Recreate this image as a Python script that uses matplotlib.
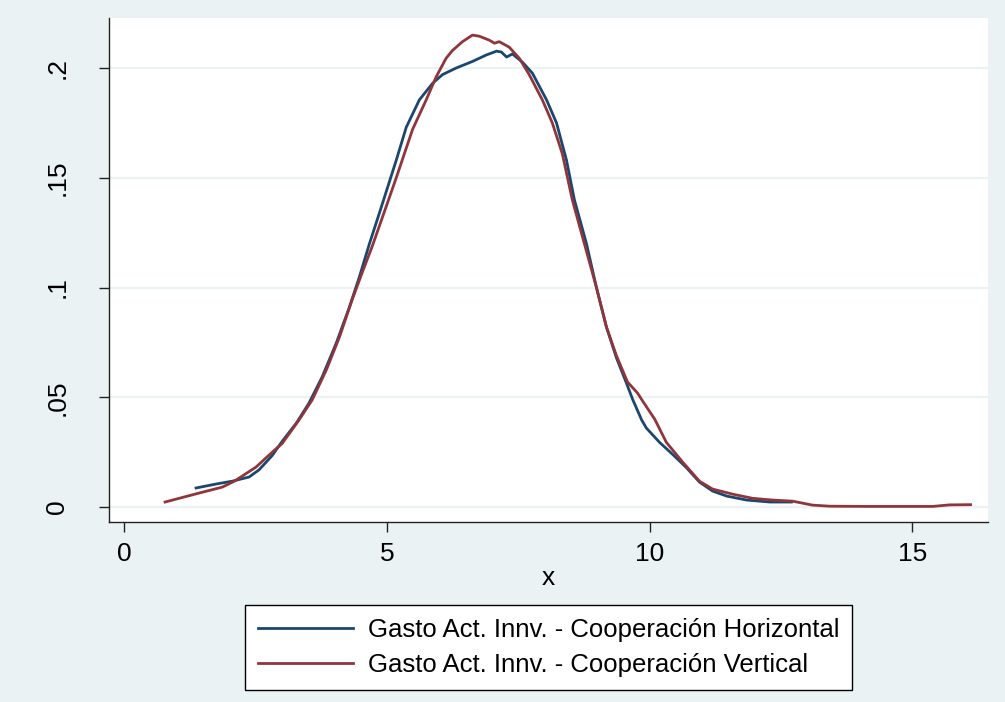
import matplotlib
matplotlib.use("Agg")
import matplotlib.pyplot as plt

plt.rcParams['font.family'] = ['Liberation Sans', 'DejaVu Sans']

# kernel density estimates (x, density) for each group
x_horiz = [1.37, 1.75, 2.06, 2.38, 2.57, 2.82, 3.01, 3.28, 3.52, 3.77, 4.04, 4.29,
           4.48, 4.67, 4.86, 5.18, 5.37, 5.62, 5.87, 6.06, 6.32, 6.63, 6.90, 7.09,
           7.18, 7.28, 7.39, 7.58, 7.77, 8.04, 8.23, 8.42, 8.57, 8.80, 8.99, 9.18,
           9.37, 9.56, 9.68, 9.85, 9.94, 10.19, 10.44, 10.70, 10.95, 11.20, 11.47,
           11.85, 12.29, 12.70]
d_horiz = [0.0087, 0.0105, 0.0118, 0.0137, 0.0170, 0.0235, 0.0300, 0.0383, 0.0474,
           0.0593, 0.0748, 0.0912, 0.1050, 0.1200, 0.1340, 0.1580, 0.1730, 0.1855,
           0.1930, 0.1970, 0.2000, 0.2030, 0.2060, 0.2077, 0.2073, 0.2050, 0.2064,
           0.2027, 0.1977, 0.1855, 0.1750, 0.1580, 0.1400, 0.1200, 0.1000, 0.0820,
           0.0680, 0.0565, 0.0490, 0.0397, 0.0360, 0.0295, 0.0240, 0.0180, 0.0114,
           0.0073, 0.0050, 0.0032, 0.0023, 0.0023]

x_vert = [0.78, 1.43, 1.87, 2.10, 2.51, 2.82, 3.01, 3.33, 3.58, 3.85, 4.10, 4.34,
          4.53, 4.72, 4.99, 5.18, 5.49, 5.75, 5.94, 6.13, 6.25, 6.44, 6.63, 6.76,
          6.95, 7.05, 7.14, 7.33, 7.52, 7.71, 7.96, 8.15, 8.34, 8.53, 8.76, 8.99,
          9.18, 9.37, 9.58, 9.77, 9.85, 10.10, 10.32, 10.63, 10.95, 11.20, 11.58,
          11.96, 12.34, 12.72, 13.10, 13.43, 14.13, 14.76, 15.39, 15.71, 16.11]
d_vert = [0.0023, 0.0064, 0.0091, 0.0118, 0.0182, 0.0250, 0.0290, 0.0397, 0.0488,
          0.0625, 0.0775, 0.0944, 0.1067, 0.1186, 0.1370, 0.1500, 0.1720, 0.1855,
          0.1960, 0.2045, 0.2080, 0.2120, 0.2150, 0.2145, 0.2127, 0.2113, 0.2120,
          0.2095, 0.2045, 0.1970, 0.1855, 0.1750, 0.1610, 0.1400, 0.1200, 0.1000,
          0.0820, 0.0690, 0.0570, 0.0520, 0.0490, 0.0400, 0.0295, 0.0205, 0.0118,
          0.0082, 0.0059, 0.0040, 0.0032, 0.0027, 0.0009, 0.0004, 0.0003, 0.0003,
          0.0003, 0.0010, 0.0011]

labels = ['Gasto Act. Innv. - Cooperación Horizontal',
          'Gasto Act. Innv. - Cooperación Vertical']
yticks = [0, 0.05, 0.1, 0.15, 0.2]
yticklabels = ['0', '.05', '.1', '.15', '.2']
xticks = [0, 5, 10, 15]

bg = '#eaf2f3'
fs = 19
fig = plt.figure(figsize=(10.05, 7.02), dpi=100, facecolor=bg)
ax = fig.add_axes([0.1085, 0.2564, 0.8745, 0.718])
ax.set_facecolor('white')

l1, = ax.plot(x_horiz, d_horiz, color='#1a476f', lw=2.0)
l2, = ax.plot(x_vert, d_vert, color='#90353b', lw=2.0)

ax.set_xlim(-0.286, 16.44)
ax.set_ylim(-0.0068, 0.2228)
ax.set_yticks(yticks)
ax.set_yticklabels(yticklabels, rotation=90, va='center')
ax.set_xticks(xticks)
ax.grid(axis='y', color=bg, lw=1.6)
ax.set_axisbelow(True)
for s in ['top', 'right']:
    ax.spines[s].set_visible(False)
for s in ['left', 'bottom']:
    ax.spines[s].set_color('#222222')
    ax.spines[s].set_linewidth(1.0)
ax.tick_params(axis='both', direction='out', length=7.5, width=1.0,
               color='#222222', labelsize=fs)
ax.tick_params(axis='x', pad=7)
ax.tick_params(axis='y', pad=21)
ax.set_xlabel('x', fontsize=fs, labelpad=0)

leg = fig.legend([l1, l2], labels, loc='upper center',
                 bbox_to_anchor=(0.5458, 0.1382), borderaxespad=0, fontsize=18.5,
                 frameon=True, fancybox=False, framealpha=1, handlelength=3.7,
                 handletextpad=0.6, borderpad=0.5, labelspacing=0.43)
leg.get_frame().set_edgecolor('black')
leg.get_frame().set_linewidth(1.0)
for h in leg.legend_handles:
    h.set_linewidth(2.0)

fig.savefig('out.png', dpi=100, facecolor=bg)
